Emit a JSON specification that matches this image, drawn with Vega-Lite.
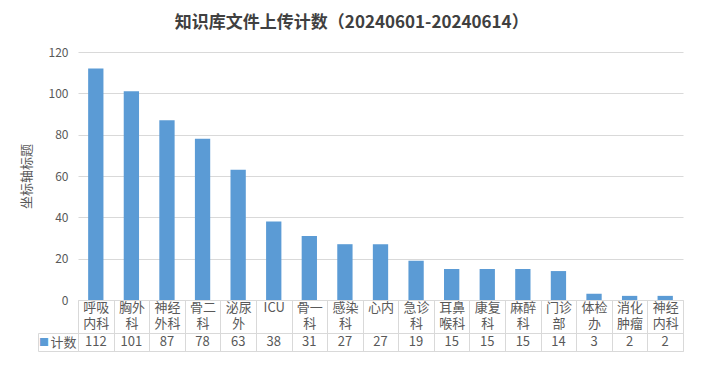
{
  "$schema": "https://vega.github.io/schema/vega-lite/v6.json",
  "background": "white",
  "padding": {"left": 20, "top": 14, "right": 15, "bottom": 17},
  "title": {"text": "知识库文件上传计数（20240601-20240614）", "anchor": "middle", "fontSize": 17, "fontWeight": "bold", "color": "#404040", "font": "Noto Sans CJK SC", "offset": 14},
  "data": {"values": [
    {"科室": "呼吸内科", "计数": 112},
    {"科室": "胸外科", "计数": 101},
    {"科室": "神经外科", "计数": 87},
    {"科室": "骨二科", "计数": 78},
    {"科室": "泌尿外", "计数": 63},
    {"科室": "ICU", "计数": 38},
    {"科室": "骨一科", "计数": 31},
    {"科室": "感染科", "计数": 27},
    {"科室": "心内", "计数": 27},
    {"科室": "急诊科", "计数": 19},
    {"科室": "耳鼻喉科", "计数": 15},
    {"科室": "康复科", "计数": 15},
    {"科室": "麻醉科", "计数": 15},
    {"科室": "门诊部", "计数": 14},
    {"科室": "体检办", "计数": 3},
    {"科室": "消化肿瘤", "计数": 2},
    {"科室": "神经内科", "计数": 2}
  ]},
  "spacing": 33,
  "bounds": "flush",
  "config": {"font": "Noto Sans CJK SC", "view": {"stroke": null}},
  "vconcat": [
    {
      "width": 605,
      "height": 248,
      "mark": {"type": "bar", "color": "#5b9bd5", "width": {"band": 0.43}},
      "encoding": {
        "x": {"field": "科室", "type": "nominal", "sort": null,
          "scale": {"paddingInner": 0, "paddingOuter": 0},
          "axis": {"title": null, "labelAngle": 0, "domain": true, "domainColor": "#d9d9d9",
            "ticks": true, "tickSize": 33, "tickBand": "extent", "tickColor": "#d9d9d9",
            "labelPadding": -32, "labelBaseline": "top", "labelFontSize": 13, "labelLineHeight": 16,
            "labelColor": "#595959", "grid": false,
            "labelExpr": "length(datum.label) > 2 && datum.label != 'ICU' ? [substring(datum.label, 0, 2), substring(datum.label, 2)] : datum.label"}},
        "y": {"field": "计数", "type": "quantitative", "scale": {"domain": [0, 120]},
          "axis": {"title": "坐标轴标题", "titleFontSize": 13, "titleFontWeight": "normal", "titleColor": "#595959", "titlePadding": 15,
            "values": [0, 20, 40, 60, 80, 100, 120], "domain": false, "ticks": false,
            "labelPadding": 10, "labelColor": "#595959", "labelFontSize": 12,
            "gridColor": "#d9d9d9"}}
      }
    },
    {
      "width": 605,
      "height": 18,
      "view": {"stroke": "#d9d9d9"},
      "mark": {"type": "text", "fontSize": 13, "color": "#595959"},
      "encoding": {
        "x": {"field": "科室", "type": "nominal", "sort": null,
          "scale": {"paddingInner": 0, "paddingOuter": 0},
          "axis": {"title": null, "labels": false, "ticks": false, "domain": false, "grid": true, "tickBand": "extent", "gridColor": "#d9d9d9"}},
        "y": {"datum": "计数", "type": "nominal",
          "axis": {"title": "■", "titleColor": "#5b9bd5", "titleAngle": 0, "titleFontSize": 10, "titleFontWeight": "normal", "titlePadding": -6, "titleBaseline": "middle",
            "domain": true, "domainColor": "#d9d9d9", "offset": 40,
            "ticks": true, "tickSize": -40, "tickBand": "extent", "tickColor": "#d9d9d9",
            "labelPadding": 2, "labelColor": "#595959", "labelFontSize": 13}},
        "text": {"field": "计数"}
      }
    }
  ]
}
